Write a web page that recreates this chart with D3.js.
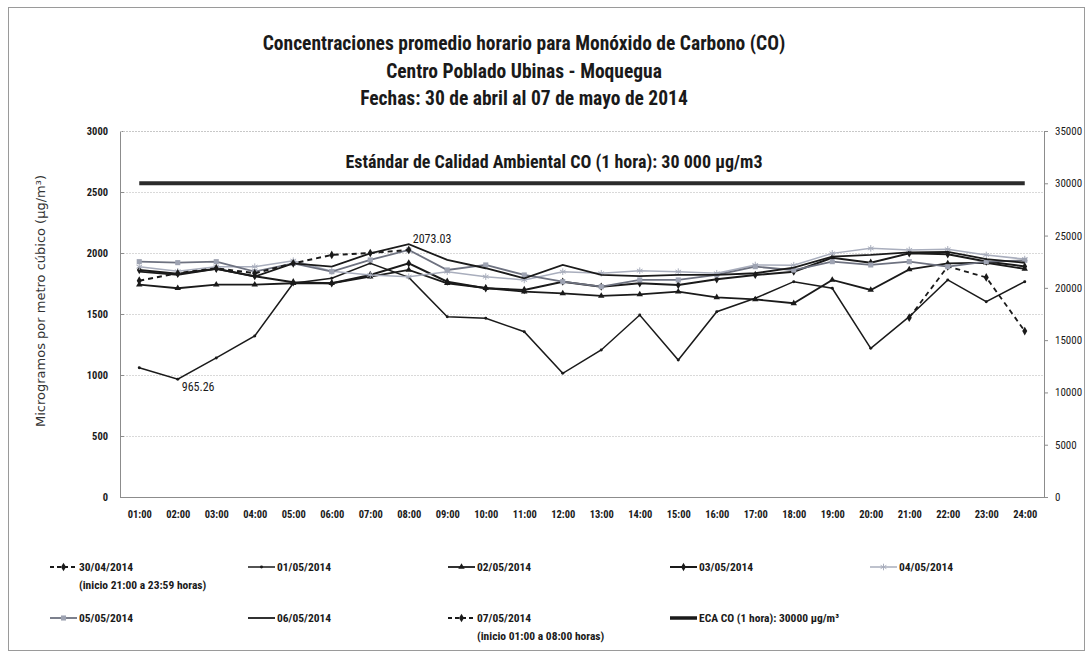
<!DOCTYPE html>
<html>
<head>
<meta charset="utf-8">
<script src="https://cdn.jsdelivr.net/npm/d3@7"></script>
<style>
  body { margin: 0; background: #fff; }
  svg { display: block; }
  .cond { font-family: "Liberation Sans Narrow", "Roboto Condensed", "Arial Narrow", "Liberation Sans", sans-serif; }
</style>
</head>
<body>
<div id="chart"></div>
<script>
// hourly averages, µg/m3
var hours = ["01:00","02:00","03:00","04:00","05:00","06:00","07:00","08:00","09:00","10:00","11:00","12:00",
             "13:00","14:00","15:00","16:00","17:00","18:00","19:00","20:00","21:00","22:00","23:00","24:00"];

var d3004 = [null,null,null,null,null,null,null,null,null,null,null,null,
             null,null,null,null,null,null,null,null,1470,1890,1800,1360];
var d0105 = [1060,965.26,1140,1320,1752,1793,1915,1800,1478,1465,1355,1014,
             1205,1492,1123,1519,1629,1765,1711,1219,1478,1779,1601,1765];
var d0205 = [1740,1711,1740,1740,1752,1752,1806,1861,1752,1713,1683,1669,
             1648,1661,1683,1637,1620,1588,1779,1697,1866,1915,1920,1870];
var d0305 = [1860,1830,1870,1810,1760,1752,1820,1915,1765,1711,1697,1765,
             1724,1752,1738,1784,1820,1847,1960,1920,1997,1990,1930,1890];
var d0405 = [1888,1850,1888,1888,1937,1850,1820,1806,1847,1806,1779,1847,
             1834,1855,1847,1834,1902,1900,1997,2038,2025,2030,1984,1950];
var d0505 = [1929,1921,1929,1847,1915,1847,1943,2025,1861,1902,1820,1765,
             1724,1779,1779,1820,1888,1860,1929,1902,1929,1888,1930,1940];
var d0605 = [1847,1820,1870,1806,1915,1888,1997,2073.03,1943,1875,1793,1902,
             1820,1811,1820,1820,1834,1880,1970,1984,2005,2010,1950,1920];
var d0705 = [1773,1834,1875,1834,1915,1984,2000,2025,null,null,null,null,
             null,null,null,null,null,null,null,null,null,null,null,null];
var eca   = [30000,30000,30000,30000,30000,30000,30000,30000,30000,30000,30000,30000,
             30000,30000,30000,30000,30000,30000,30000,30000,30000,30000,30000,30000];

var leftTicks  = [0,500,1000,1500,2000,2500,3000];
var rightTicks = [0,5000,10000,15000,20000,25000,30000,35000];

var W = 1091, H = 657;
var plot = {left: 120, right: 1044, top: 131, bottom: 497};

var svg = d3.select('#chart').append('svg')
    .attr('width', W).attr('height', H);

// outer frame
svg.append('rect')
    .attr('x', 8.5).attr('y', 7.5).attr('width', 1076).attr('height', 643)
    .attr('fill', 'none').attr('stroke', '#9a9a9a').attr('stroke-width', 1);

var x = d3.scalePoint().domain(hours).range([plot.left, plot.right]).padding(0.5);
var yL = d3.scaleLinear().domain([0, 3000]).range([plot.bottom, plot.top]);
var yR = d3.scaleLinear().domain([0, 35000]).range([plot.bottom, plot.top]);

// titles
var titles = ["Concentraciones promedio horario para Monóxido de Carbono (CO)",
              "Centro Poblado Ubinas - Moquegua",
              "Fechas: 30 de abril al 07 de mayo de 2014"];
svg.selectAll('.title').data(titles).enter().append('text')
    .attr('class', 'title cond')
    .attr('x', 524).attr('y', function(d, i){ return 50 + i * 27.5; })
    .attr('text-anchor', 'middle')
    .attr('font-size', 19.5).attr('font-weight', 'bold').attr('fill', '#1a1a1a')
    .text(function(d){ return d; });

// gridlines
svg.append('g').selectAll('line').data(leftTicks.slice(1)).enter().append('line')
    .attr('x1', plot.left).attr('x2', plot.right)
    .attr('y1', function(d){ return Math.round(yL(d)) + 0.5; })
    .attr('y2', function(d){ return Math.round(yL(d)) + 0.5; })
    .attr('stroke', '#d9d9d9').attr('stroke-width', 1).attr('stroke-dasharray', '2,1');

// axes
var fmt = d3.format('d');
var gL = svg.append('g').attr('transform', 'translate(' + plot.left + ',0)')
    .call(d3.axisLeft(yL).tickValues(leftTicks).tickFormat(fmt).tickSizeInner(-4).tickSizeOuter(0).tickPadding(12));
var gR = svg.append('g').attr('transform', 'translate(' + plot.right + ',0)')
    .call(d3.axisRight(yR).tickValues(rightTicks).tickFormat(fmt).tickSizeInner(4).tickSizeOuter(0).tickPadding(7));
var gX = svg.append('g').attr('transform', 'translate(0,' + plot.bottom + ')')
    .call(d3.axisBottom(x).tickSize(0).tickPadding(14));

[gL, gR, gX].forEach(function(g){
    g.select('.domain').attr('stroke', '#8c8c8c');
    g.selectAll('.tick line').attr('stroke', '#8c8c8c');
    g.selectAll('text').attr('class', 'cond').attr('fill', '#1a1a1a');
});
gL.selectAll('text').attr('font-size', 10.5).attr('font-weight', 'bold');
gX.selectAll('text').attr('font-size', 10.5).attr('font-weight', 'bold');
gR.selectAll('text').attr('font-size', 11);

// top border of plot area
svg.append('line')
    .attr('x1', plot.left).attr('x2', plot.right).attr('y1', plot.top + 0.5).attr('y2', plot.top + 0.5)
    .attr('stroke', '#c8c8c8').attr('stroke-dasharray', '2,1');

// y axis title
svg.append('text')
    .attr('transform', 'translate(45,301) rotate(-90)')
    .attr('text-anchor', 'middle')
    .attr('font-family', '"DejaVu Sans", Verdana, sans-serif')
    .attr('font-size', 13).attr('fill', '#333')
    .text('Microgramos por metro cúbico (µg/m³)');

// series definitions
var series = [
    {name: '30/04/2014', note: '(inicio 21:00 a 23:59 horas)', values: d3004, color: '#1a1a1a', width: 1.8, dash: '5,4', symbol: d3.symbolDiamond, size: 22, mfill: '#1a1a1a'},
    {name: '01/05/2014', values: d0105, color: '#1a1a1a', width: 1.5, symbol: d3.symbolCircle, size: 7, mfill: '#1a1a1a'},
    {name: '02/05/2014', values: d0205, color: '#1a1a1a', width: 1.8, symbol: d3.symbolTriangle, size: 18, mfill: '#1a1a1a'},
    {name: '03/05/2014', values: d0305, color: '#1a1a1a', width: 2, symbol: d3.symbolDiamond, size: 20, mfill: '#1a1a1a'},
    {name: '04/05/2014', values: d0405, color: '#a9aebd', width: 1.5, symbol: d3.symbolAsterisk, size: 30, mfill: 'none', mstroke: '#a9aebd'},
    {name: '05/05/2014', values: d0505, color: '#6e7280', width: 1.8, symbol: d3.symbolSquare, size: 26, mfill: '#9ea3b2'},
    {name: '06/05/2014', values: d0605, color: '#1a1a1a', width: 1.8},
    {name: '07/05/2014', note: '(inicio 01:00 a 08:00 horas)', values: d0705, color: '#1a1a1a', width: 2, dash: '5,4', symbol: d3.symbolDiamond, size: 22, mfill: '#1a1a1a'}
];

var line = d3.line()
    .defined(function(d){ return d != null; })
    .x(function(d, i){ return x(hours[i]); })
    .y(function(d){ return yL(d); });

var lineR = d3.line()
    .x(function(d, i){ return x(hours[i]); })
    .y(function(d){ return yR(d); });

// ECA line (secondary axis)
svg.append('path')
    .datum(eca)
    .attr('d', lineR)
    .attr('fill', 'none').attr('stroke', '#2b2b2b').attr('stroke-width', 4);

svg.append('text')
    .attr('class', 'cond')
    .attr('x', 554).attr('y', 168)
    .attr('text-anchor', 'middle')
    .attr('font-size', 18).attr('font-weight', 'bold').attr('fill', '#1a1a1a')
    .text('Estándar de Calidad Ambiental CO (1 hora): 30 000 µg/m3');

function drawMarker(g, s, px, py){
    if (!s.symbol) return;
    g.append('path')
        .attr('transform', 'translate(' + px + ',' + py + ')')
        .attr('d', d3.symbol().type(s.symbol).size(s.size))
        .attr('fill', s.mfill || 'none')
        .attr('stroke', s.mstroke || 'none')
        .attr('stroke-width', 1);
}

var gS = svg.append('g');
series.forEach(function(s){
    gS.append('path')
        .datum(s.values)
        .attr('d', line)
        .attr('fill', 'none')
        .attr('stroke', s.color)
        .attr('stroke-width', s.width)
        .attr('stroke-dasharray', s.dash || null);
    s.values.forEach(function(v, i){
        if (v == null) return;
        drawMarker(gS, s, x(hours[i]), yL(v));
    });
});

// data labels for the extremes
svg.append('text').attr('class', 'cond')
    .attr('x', x('02:00') + 4).attr('y', yL(965.26) + 12)
    .attr('font-size', 12).attr('fill', '#1a1a1a')
    .text('965.26');
svg.append('text').attr('class', 'cond')
    .attr('x', x('08:00') + 4).attr('y', yL(2073.03) - 1)
    .attr('font-size', 12).attr('fill', '#1a1a1a')
    .text('2073.03');

// legend
var legendItems = series.concat([{name: 'ECA CO (1 hora): 30000 µg/m³', color: '#1a1a1a', width: 3.5}]);
var cols = [50, 248, 448, 670, 870];
var rows = [567, 618];
var gLeg = svg.append('g');
legendItems.forEach(function(s, i){
    var cx = cols[i % 5], cy = rows[Math.floor(i / 5)];
    gLeg.append('line')
        .attr('x1', cx).attr('x2', cx + 27).attr('y1', cy).attr('y2', cy)
        .attr('stroke', s.color).attr('stroke-width', s.width)
        .attr('stroke-dasharray', s.dash ? '4,3' : null);
    drawMarker(gLeg, s, cx + 13.5, cy);
    gLeg.append('text').attr('class', 'cond')
        .attr('x', cx + 29).attr('y', cy + 4)
        .attr('font-size', 11.5).attr('font-weight', 'bold').attr('fill', '#1a1a1a')
        .text(s.name);
    if (s.note) {
        gLeg.append('text').attr('class', 'cond')
            .attr('x', cx + 29).attr('y', cy + 22)
            .attr('font-size', 11.5).attr('font-weight', 'bold').attr('fill', '#1a1a1a')
            .text(s.note);
    }
});
</script>
</body>
</html>
